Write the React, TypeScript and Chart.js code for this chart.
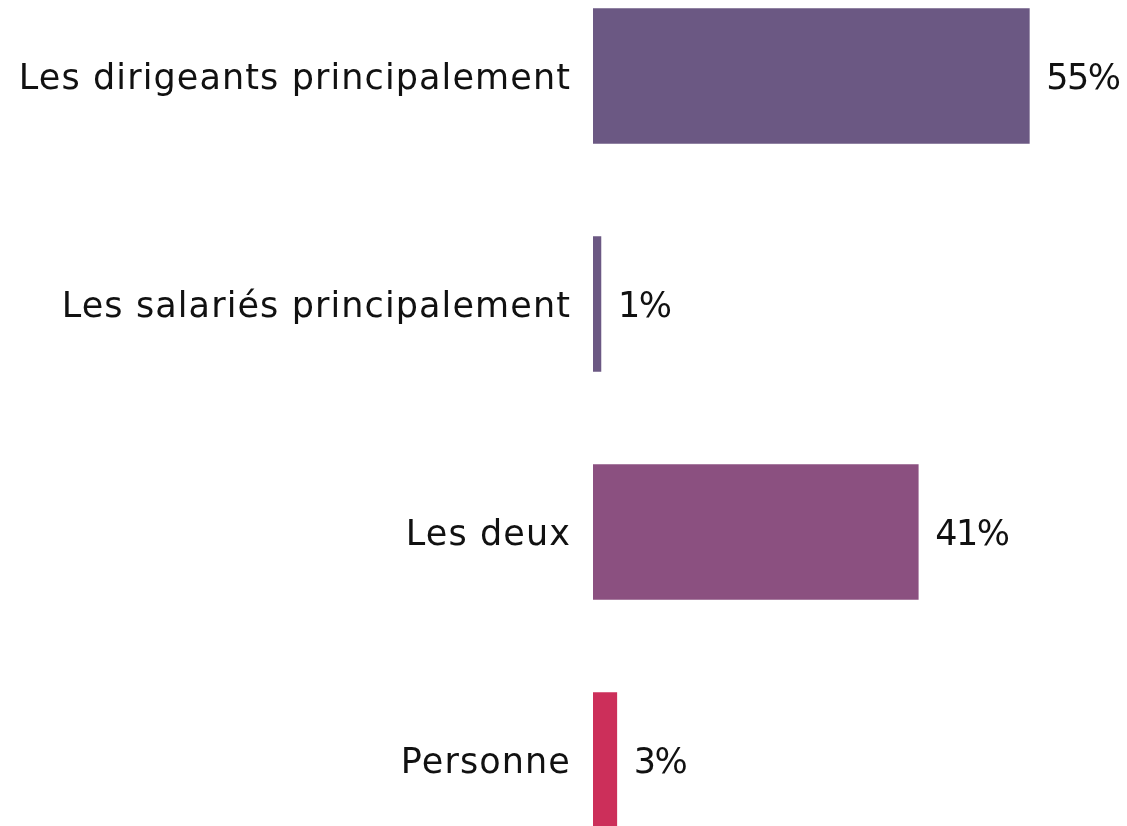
import React, { useEffect, useRef } from "react";
import { Chart, registerables } from "chart.js";

Chart.register(...registerables);

const categories = [
  "Les dirigeants principalement",
  "Les salariés principalement",
  "Les deux",
  "Personne",
];
const values = [55, 1, 41, 3];
const barColors = ["#6b5883", "#6b5883", "#8b5080", "#cc2f5a"];

const FONT_FAMILY = "'DejaVu Sans', sans-serif";
const FONT_SIZE = 35;

const spacingPlugin = {
  id: "spacing",
  beforeDraw(chart: any) {
    chart.ctx.letterSpacing = "1.1px";
  },
  afterDraw(chart: any) {
    chart.ctx.letterSpacing = "0px";
  },
};

const valueLabels = {
  id: "valueLabels",
  afterDatasetsDraw(chart: any) {
    const ctx = chart.ctx;
    const meta = chart.getDatasetMeta(0);
    ctx.save();
    ctx.letterSpacing = "-1.5px";
    ctx.font = `${FONT_SIZE}px ${FONT_FAMILY}`;
    ctx.fillStyle = "#111111";
    ctx.textAlign = "left";
    ctx.textBaseline = "middle";
    meta.data.forEach((bar: any, i: number) => {
      ctx.fillText(`${values[i]}%`, bar.x + 17, bar.y + 4);
    });
    ctx.restore();
  },
};

export default function App() {
  const canvasRef = useRef<HTMLCanvasElement | null>(null);

  useEffect(() => {
    if (!canvasRef.current) return;
    const chart = new Chart(canvasRef.current, {
      type: "bar",
      data: {
        labels: categories,
        datasets: [
          {
            data: values,
            backgroundColor: barColors,
            borderWidth: 0,
            barThickness: 135,
          },
        ],
      },
      options: {
        indexAxis: "y",
        responsive: false,
        animation: false,
        layout: { padding: { left: 0, right: 58, top: 0, bottom: 0 } },
        plugins: {
          legend: { display: false },
          tooltip: { enabled: false },
        },
        scales: {
          x: {
            display: false,
            min: 0,
            max: 60,
          },
          y: {
            grid: { display: false, drawTicks: false },
            border: { display: false },
            ticks: {
              color: "#111111",
              padding: 22,
              labelOffset: 4,
              font: { family: FONT_FAMILY, size: FONT_SIZE },
            },
            afterFit(scale: any) {
              scale.width = 593;
              scale.paddingTop = 0;
              scale.paddingBottom = 0;
            },
          },
        },
      },
      plugins: [spacingPlugin, valueLabels],
    });
    return () => chart.destroy();
  }, []);

  return (
    <div
      style={{
        position: "fixed",
        top: 0,
        left: 0,
        width: 1127,
        height: 826,
        overflow: "hidden",
        background: "#ffffff",
      }}
    >
      <div style={{ position: "absolute", top: -38.5, left: 0 }}>
        <canvas ref={canvasRef} width={1127} height={912} />
      </div>
    </div>
  );
}
